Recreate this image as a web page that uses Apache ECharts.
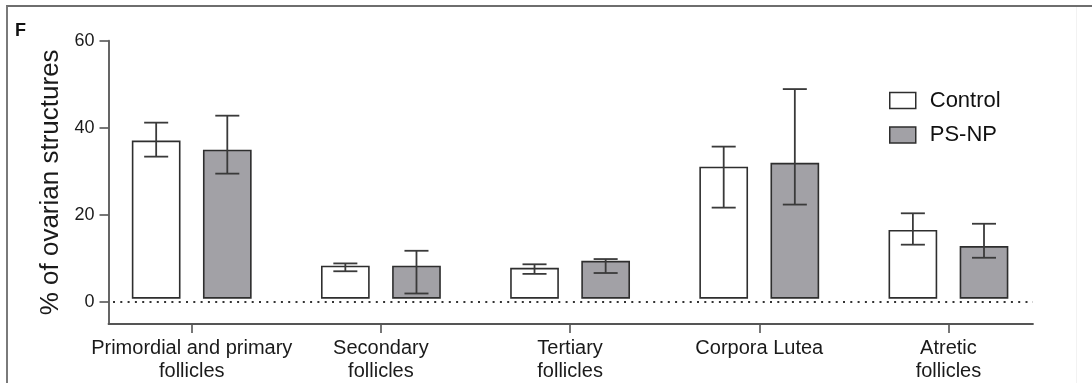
<!DOCTYPE html>
<html>
<head>
<meta charset="utf-8">
<script src="https://cdn.jsdelivr.net/npm/echarts@6/dist/echarts.min.js"></script>
<style>
  html, body { margin: 0; padding: 0; background: #fff; }
  #frame { position: absolute; left: 6px; top: 5px; width: 1086px; height: 378px;
           border-top: 2px solid #6e6e6e; border-left: 2px solid #7a7a7a; box-sizing: border-box; }
  #faint { position: absolute; left: 1076px; top: 7px; width: 1px; height: 376px; background: #f2f2f2; }
  #chart { position: absolute; left: 0; top: 0; width: 1092px; height: 383px; }
</style>
</head>
<body>
<div id="frame"></div>
<div id="faint"></div>
<div id="chart"></div>
<script>
// Ovarian structure composition, mean with error range per group
const categories = [
  'Primordial and primary\nfollicles',
  'Secondary\nfollicles',
  'Tertiary\nfollicles',
  'Corpora Lutea',
  'Atretic\nfollicles'
];
const seriesNames = ['Control', 'PS-NP'];
const controlMean = [36.9, 8.2, 7.7, 30.9, 16.4];
const controlHigh = [41.2, 8.9, 8.7, 35.7, 20.4];
const controlLow  = [33.4, 7.1, 6.5, 21.7, 13.2];
const psnpMean    = [34.8, 8.2, 9.3, 31.8, 12.7];
const psnpHigh    = [42.8, 11.8, 9.9, 48.9, 18.0];
const psnpLow     = [29.5, 2.0, 6.7, 22.4, 10.2];
const yTicks = [0, 20, 40, 60];
const catIndex = categories.map((c, i) => i);

// bars are drawn up from this level, just above the zero reference line
const BAR_BASE = 1;
const OFFSET = 0.188;      // half distance between paired bars, in category units
const BAR_W = 0.249;       // bar width, in category units
const CAP_W = 0.127;       // error-bar cap width, in category units

const INK = '#2e2e2e';
const AXIS = '#555555';
const FONT = 'Liberation Sans, Arial, sans-serif';

function rows(mean, low, high) {
  return mean.map((m, i) => [i, m, low[i], high[i]]);
}

function makeBarRenderer(side, fill) {
  return function (params, api) {
    const cat = api.value(0);
    const x = cat + side * OFFSET;
    const top = api.coord([x, api.value(1)]);
    const base = api.coord([x, BAR_BASE]);
    const unit = api.size([1, 0])[0];
    const w = BAR_W * unit;
    const cap = CAP_W * unit / 2;
    const lo = api.coord([x, api.value(2)]);
    const hi = api.coord([x, api.value(3)]);
    const errStyle = { stroke: '#3a3a3a', lineWidth: 1.8, fill: null };
    return {
      type: 'group',
      children: [
        { type: 'rect',
          shape: { x: top[0] - w / 2, y: top[1], width: w, height: base[1] - top[1] },
          style: { fill: fill, stroke: INK, lineWidth: 1.6 } },
        { type: 'line', shape: { x1: top[0], y1: lo[1], x2: top[0], y2: hi[1] }, style: errStyle },
        { type: 'line', shape: { x1: top[0] - cap, y1: hi[1], x2: top[0] + cap, y2: hi[1] }, style: errStyle },
        { type: 'line', shape: { x1: top[0] - cap, y1: lo[1], x2: top[0] + cap, y2: lo[1] }, style: errStyle }
      ]
    };
  };
}

const chart = echarts.init(document.getElementById('chart'), null, { renderer: 'canvas' });

chart.setOption({
  animation: false,
  backgroundColor: 'transparent',
  textStyle: { fontFamily: FONT },
  title: {
    text: 'F', left: 10, top: 17,
    textStyle: { fontSize: 18, fontWeight: 'bold', color: '#111', fontFamily: FONT }
  },
  grid: { left: 108.5, right: 59, top: 40.7, bottom: 58.7, containLabel: false },
  legend: {
    orient: 'vertical', left: 884, top: 84.5,
    itemWidth: 26, itemHeight: 16, itemGap: 12.5,
    icon: 'rect',
    textStyle: { fontSize: 22, lineHeight: 22, color: '#111', padding: [0, 0, 0, 9], fontFamily: FONT },
    data: [
      { name: seriesNames[0], itemStyle: { color: '#ffffff', borderColor: INK, borderWidth: 1.5 } },
      { name: seriesNames[1], itemStyle: { color: '#a2a1a6', borderColor: INK, borderWidth: 1.5 } }
    ]
  },
  xAxis: {
    type: 'value', min: -0.44, max: 4.447,
    splitLine: { show: false },
    axisLine: { show: true, onZero: false, lineStyle: { color: AXIS, width: 1.8 } },
    axisTick: { show: true, customValues: catIndex, length: 9, lineStyle: { color: AXIS, width: 1.6 } },
    axisLabel: {
      customValues: catIndex,
      formatter: v => categories[Math.round(v)],
      fontSize: 20, lineHeight: 23, color: '#1a1a1a', margin: 13, fontFamily: FONT
    }
  },
  yAxis: {
    type: 'value', min: -5, max: 60,
    name: '% of ovarian structures', nameLocation: 'middle', nameGap: 44,
    nameTextStyle: { fontSize: 26, color: '#1a1a1a', fontFamily: FONT },
    splitLine: { show: false },
    axisLine: { show: true, onZero: false, lineStyle: { color: AXIS, width: 1.8 } },
    axisTick: { show: true, customValues: yTicks, length: 9, lineStyle: { color: AXIS, width: 1.6 } },
    axisLabel: { customValues: yTicks, fontSize: 18, color: '#1a1a1a', margin: 14, fontFamily: FONT }
  },
  series: [
    {
      name: seriesNames[0], type: 'custom',
      itemStyle: { color: '#ffffff', borderColor: INK },
      renderItem: makeBarRenderer(-1, '#ffffff'),
      encode: { x: 0, y: [1, 2, 3] },
      data: rows(controlMean, controlLow, controlHigh),
      markLine: {
        silent: true, symbol: 'none', label: { show: false },
        lineStyle: { color: '#333', width: 2, type: [2, 5.3], dashOffset: -4.5 },
        data: [{ yAxis: 0 }]
      },
      z: 3
    },
    {
      name: seriesNames[1], type: 'custom',
      itemStyle: { color: '#a2a1a6', borderColor: INK },
      renderItem: makeBarRenderer(1, '#a2a1a6'),
      encode: { x: 0, y: [1, 2, 3] },
      data: rows(psnpMean, psnpLow, psnpHigh),
      z: 3
    }
  ]
});
</script>
</body>
</html>
